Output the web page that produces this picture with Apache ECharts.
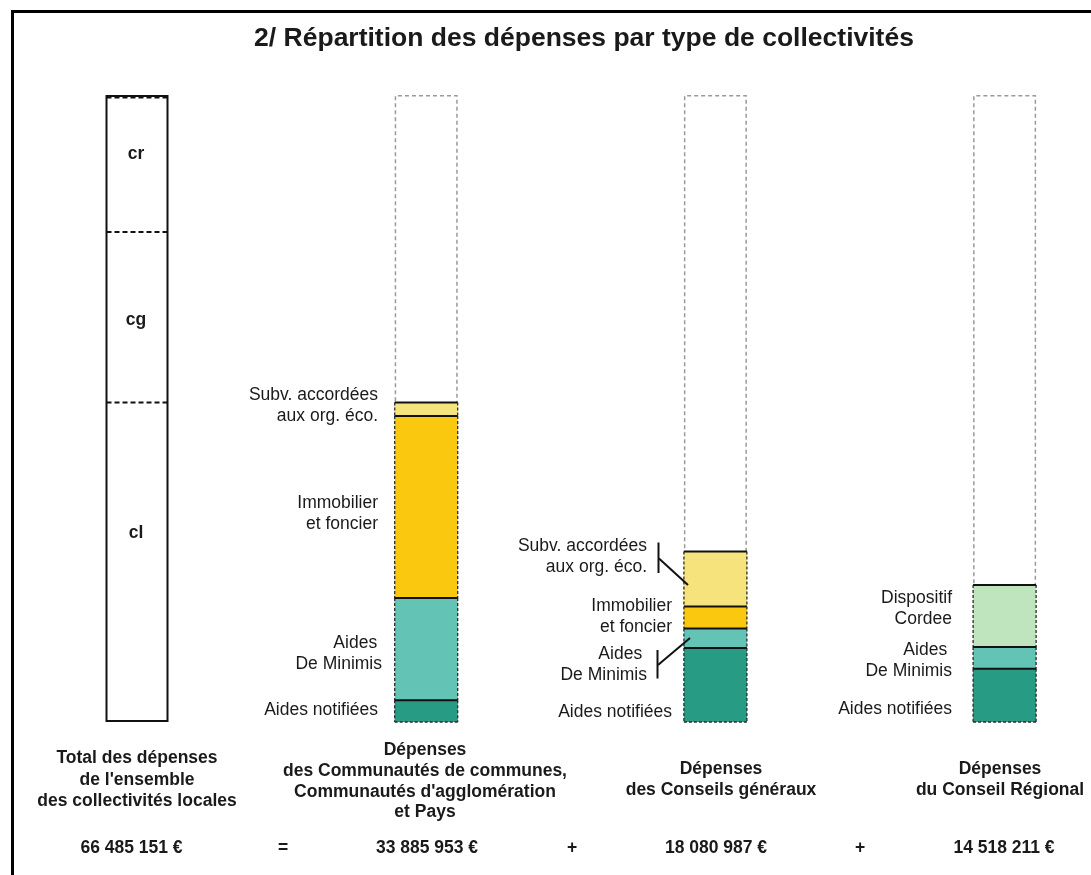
<!DOCTYPE html>
<html>
<head>
<meta charset="utf-8">
<script src="https://cdn.jsdelivr.net/npm/echarts@6.0.0/dist/echarts.min.js"></script>
<style>
html,body{margin:0;padding:0;background:#fff;}
#chart{width:1091px;height:875px;}
</style>
</head>
<body>
<div id="chart"></div>
<script>
// ---------- DATA ----------
const titleText = '2/ Répartition des dépenses par type de collectivités';
const columnNames = [
  "Total des dépenses\nde l'ensemble\ndes collectivités locales",
  "Dépenses\ndes Communautés de communes,\nCommunautés d'agglomération\net Pays",
  "Dépenses\ndes Conseils généraux",
  "Dépenses\ndu Conseil Régional"
];
const totals = [66485151, 33885953, 18080987, 14518211];
const operators = ['=', '+', '+'];

const totalPartNames = ['cl', 'cg', 'cr'];
const totalPartValues = [33885953, 18080987, 14518211];

const ccSegmentNames = ['Aides notifiées', 'Aides \nDe Minimis', 'Immobilier\net foncier', 'Subv. accordées\naux org. éco.'];
const ccSegmentValues = [2300000, 10850000, 19300000, 1435953];

const cgSegmentNames = ['Aides notifiées', 'Aides \nDe Minimis', 'Immobilier\net foncier', 'Subv. accordées\naux org. éco.'];
const cgSegmentValues = [7850000, 2070000, 2330000, 5830987];

const crSegmentNames = ['Aides notifiées', 'Aides \nDe Minimis', 'Dispositif\nCordee'];
const crSegmentValues = [5650000, 2310000, 6558211];

// ---------- STYLE ----------
const FONT = '"Liberation Sans", Arial, Helvetica, sans-serif';
const TEXT = '#1a1a1a';
const BAR_W = 63;
const segColors = {
  'Aides notifiées': '#279b83',
  'Aides \nDe Minimis': '#63c3b4',
  'Immobilier\net foncier': '#f9c80f',
  'Subv. accordées\naux org. éco.': '#f7e37b',
  'Dispositif\nCordee': '#bfe5bf'
};

const grand = totals[0];
const segGroups = [
  [totalPartNames, totalPartValues],
  [ccSegmentNames, ccSegmentValues],
  [cgSegmentNames, cgSegmentValues],
  [crSegmentNames, crSegmentValues]
];
const kindNames = [];
const segData = [];
segGroups.forEach(function (g, col) {
  let acc = 0;
  g[0].forEach(function (name, i) {
    let k = kindNames.indexOf(name);
    if (k < 0) { kindNames.push(name); k = kindNames.length - 1; }
    segData.push([col, acc, acc + g[1][i], k]);
    acc += g[1][i];
  });
});

function renderSegment(params, api) {
  const col = api.value(0), start = api.value(1), end = api.value(2), kind = api.value(3);
  const name = kindNames[kind];
  const pb = api.coord([col, start]);
  const pt = api.coord([col, end]);
  const x0 = pb[0] - BAR_W / 2, x1 = pb[0] + BAR_W / 2;
  const children = [];
  if (col === 0) {
    const yy = end >= grand ? pt[1] + 2.5 : pt[1];
    children.push({type: 'line', z2: 10, shape: {x1: x0 + 1, y1: yy, x2: x1 - 1, y2: yy},
      style: {stroke: '#111', lineWidth: 2, lineDash: [5, 3]}});
  } else {
    children.push({type: 'rect', z2: 1, shape: {x: x0, y: pt[1], width: BAR_W, height: pb[1] - pt[1]},
      style: {fill: segColors[name]}});
    children.push({type: 'line', z2: 5, shape: {x1: x0, y1: pt[1], x2: x0, y2: pb[1]},
      style: {stroke: '#2b2b2b', lineWidth: 1.3, lineDash: [3, 2]}});
    children.push({type: 'line', z2: 5, shape: {x1: x1, y1: pt[1], x2: x1, y2: pb[1]},
      style: {stroke: '#2b2b2b', lineWidth: 1.3, lineDash: [3, 2]}});
    if (start === 0) {
      children.push({type: 'line', z2: 5, shape: {x1: x0, y1: pb[1], x2: x1, y2: pb[1]},
        style: {stroke: '#2b2b2b', lineWidth: 1.5, lineDash: [3, 2]}});
    }
    children.push({type: 'line', z2: 10, shape: {x1: x0, y1: pt[1], x2: x1, y2: pt[1]},
      style: {stroke: '#111', lineWidth: 2}});
  }
  return {type: 'group', children: children};
}

function fmt(v) {
  return String(v).replace(/\B(?=(\d{3})+(?!\d))/g, ' ') + ' €';
}

// ---------- LAYOUT (annotation positions) ----------
const partLabelLayout = [
  {name: 'cr', x: 136, y: 154},
  {name: 'cg', x: 136, y: 320},
  {name: 'cl', x: 136, y: 533}
];
const segLabelLayout = [
  // column 2
  {name: 'Subv. accordées\naux org. éco.', x: 378, y: 406},
  {name: 'Immobilier\net foncier', x: 378, y: 514},
  {name: 'Aides \nDe Minimis', x: 382, y: 654},
  {name: 'Aides notifiées', x: 378, y: 710},
  // column 3
  {name: 'Subv. accordées\naux org. éco.', x: 647, y: 557},
  {name: 'Immobilier\net foncier', x: 672, y: 617},
  {name: 'Aides \nDe Minimis', x: 647, y: 665},
  {name: 'Aides notifiées', x: 672, y: 712},
  // column 4
  {name: 'Dispositif\nCordee', x: 952, y: 609},
  {name: 'Aides \nDe Minimis', x: 952, y: 661},
  {name: 'Aides notifiées', x: 952, y: 709}
];
const descLayout = [
  {x: 137, y: 780, lh: 21.5},
  {x: 425, y: 781.5, lh: 20.7},
  {x: 721, y: 780, lh: 21},
  {x: 1000, y: 780, lh: 21}
];
const amountX = [131.5, 427, 716, 1004];
const operatorX = [283, 572, 860];
const AMOUNT_Y = 848;

const graphics = [];
graphics.push({type: 'rect', silent: true, z: 0,
  shape: {x: 12.5, y: 11.5, width: 1200, height: 1000},
  style: {fill: 'none', stroke: '#000', lineWidth: 3}});
partLabelLayout.forEach(function (l) {
  graphics.push({type: 'text', z: 20, style: {text: l.name, x: l.x, y: l.y, textAlign: 'center',
    textVerticalAlign: 'middle', font: 'bold 17.5px ' + FONT, fill: TEXT}});
});
segLabelLayout.forEach(function (l) {
  graphics.push({type: 'text', z: 20, style: {text: l.name, x: l.x, y: l.y, textAlign: 'right',
    textVerticalAlign: 'middle', font: '17.5px ' + FONT, fill: TEXT, lineHeight: 21}});
});
columnNames.forEach(function (n, i) {
  graphics.push({type: 'text', z: 20, style: {text: n, x: descLayout[i].x, y: descLayout[i].y,
    textAlign: 'center', textVerticalAlign: 'middle', font: 'bold 17.5px ' + FONT, fill: TEXT,
    lineHeight: descLayout[i].lh}});
  graphics.push({type: 'text', z: 20, style: {text: fmt(totals[i]), x: amountX[i], y: AMOUNT_Y,
    textAlign: 'center', textVerticalAlign: 'middle', font: 'bold 17.5px ' + FONT, fill: TEXT}});
});
operators.forEach(function (o, i) {
  graphics.push({type: 'text', z: 20, style: {text: o, x: operatorX[i], y: AMOUNT_Y,
    textAlign: 'center', textVerticalAlign: 'middle', font: 'bold 17.5px ' + FONT, fill: TEXT}});
});
// leader brackets for column 3
graphics.push({type: 'polyline', z: 30, shape: {points: [[658.5, 542.5], [658.5, 573]]},
  style: {stroke: '#111', lineWidth: 2, fill: 'none'}});
graphics.push({type: 'polyline', z: 30, shape: {points: [[659, 558.5], [688, 585]]},
  style: {stroke: '#111', lineWidth: 2, fill: 'none'}});
graphics.push({type: 'polyline', z: 30, shape: {points: [[657.5, 650], [657.5, 678.5]]},
  style: {stroke: '#111', lineWidth: 2, fill: 'none'}});
graphics.push({type: 'polyline', z: 30, shape: {points: [[658, 665], [690, 638]]},
  style: {stroke: '#111', lineWidth: 2, fill: 'none'}});

const outlineData = totals.map(function (t, i) {
  if (i === 0) {
    return {value: grand, itemStyle: {color: '#fff', borderColor: '#111', borderWidth: 2, borderType: 'solid'}};
  }
  return {value: grand, itemStyle: {color: 'rgba(255,255,255,0)', borderColor: '#9a9a9a', borderWidth: 1.5, borderType: [4, 3]}};
});

const chart = echarts.init(document.getElementById('chart'), null, {renderer: 'canvas'});
chart.setOption({
  animation: false,
  backgroundColor: '#fff',
  title: {
    text: titleText, left: 584, top: 25, padding: 0, textAlign: 'center',
    textStyle: {fontFamily: FONT, fontWeight: 'bold', fontSize: 26.5, color: TEXT}
  },
  grid: {left: 137, top: 95, width: 867.6, height: 627},
  xAxis: {type: 'category', data: columnNames, show: false, boundaryGap: false},
  yAxis: {type: 'value', min: 0, max: grand, show: false},
  series: [
    {type: 'bar', name: 'outline', data: outlineData, barWidth: BAR_W, z: 1, silent: true, clip: false},
    {type: 'custom', name: 'segments', data: segData, renderItem: renderSegment, z: 3,
      encode: {x: 0, y: [1, 2]}, clip: false}
  ],
  graphic: graphics
});
</script>
</body>
</html>
